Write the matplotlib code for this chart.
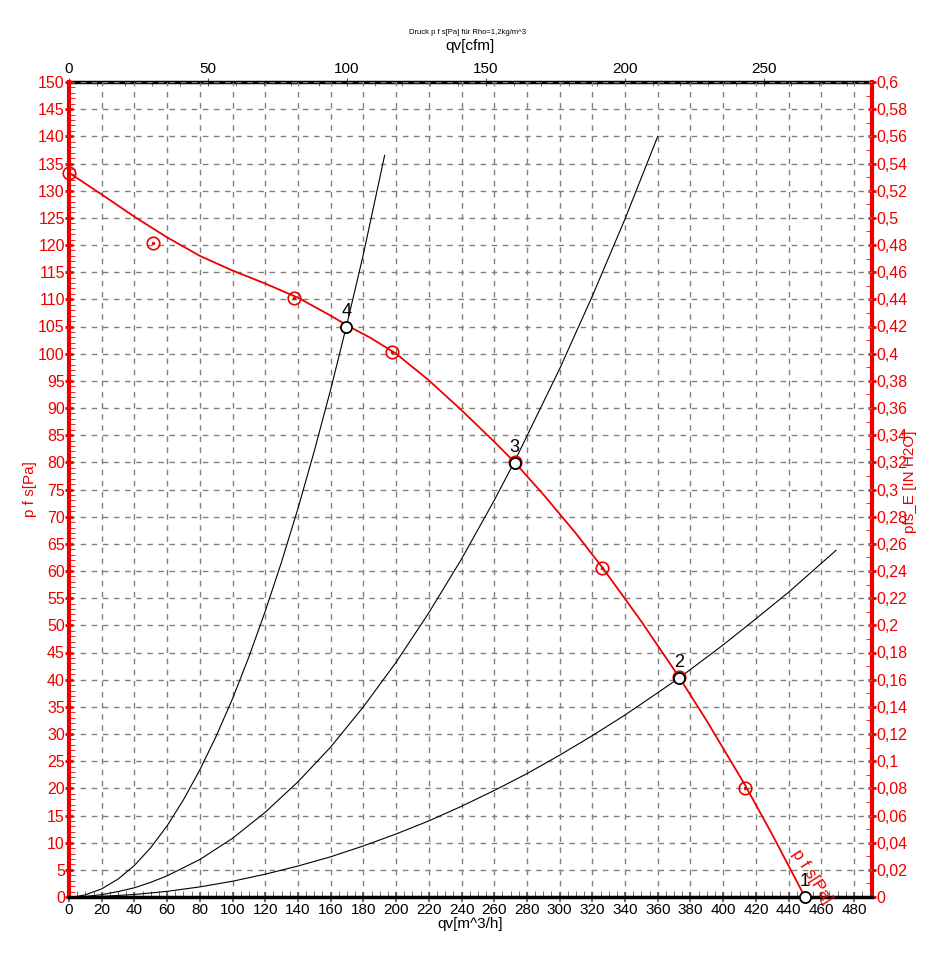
import numpy as np
import matplotlib
matplotlib.use("Agg")
import matplotlib.pyplot as plt
from matplotlib.ticker import MultipleLocator, FuncFormatter

plt.rcParams['font.family'] = ['Liberation Sans', 'DejaVu Sans']

# fan curve p f s [Pa] over qv [m^3/h]
fan_q = [0, 20, 40, 60, 80, 100, 120, 140, 160, 169.5, 185, 200, 220, 240, 260, 272.5,
         290, 310, 326, 350, 373, 390, 413, 430, 450]
fan_p = [133.3, 129.3, 125.2, 121.4, 118.0, 115.3, 112.9, 110.3, 107.0, 105.3, 102.8, 100.0,
         95.1, 89.6, 83.8, 80.0, 74.1, 66.9, 60.7, 50.7, 40.5, 32.4, 20.8, 11.5, 0]
# measured points (red circles)
meas_q = [0, 51.4, 137.8, 197.2, 272.5, 325.8, 372.9, 413.3]
meas_p = [133.3, 120.3, 110.3, 100.3, 80.0, 60.6, 40.5, 20.1]

# system curves (black)
sys4_q = [3, 10, 20, 30, 40, 50, 60, 70, 80, 90, 100, 110, 120, 130, 140, 150, 160, 170, 180, 193]
sys4_p = [0, 0.4, 1.5, 3.3, 5.8, 9.1, 13.1, 17.9, 23.4, 29.6, 36.5, 44.2, 52.6, 61.7, 71.5,
          82.1, 93.4, 105.5, 118.3, 136.5]
sys3_q = [3, 10, 20, 30, 40, 50, 60, 80, 100, 120, 140, 160, 180, 200, 220, 240, 260, 272,
          300, 320, 340, 360]
sys3_p = [0, 0.1, 0.43, 1.0, 1.7, 2.7, 3.9, 6.9, 10.8, 15.6, 21.2, 27.6, 35.0, 43.2, 52.3,
          62.2, 73.0, 79.9, 97.2, 110.6, 124.8, 140.0]
sys2_q = [3, 20, 40, 60, 80, 100, 120, 140, 160, 180, 200, 220, 240, 260, 280, 300, 320, 340,
          360, 373, 400, 420, 440, 469]
sys2_p = [0, 0.12, 0.46, 1.04, 1.86, 2.9, 4.2, 5.7, 7.4, 9.4, 11.6, 14.0, 16.7, 19.6, 22.7,
          26.1, 29.7, 33.5, 37.6, 40.3, 46.4, 51.2, 56.1, 63.8]

# operating points 1..4
op_q = [450, 372.9, 272.5, 169.5]
op_p = [0, 40.3, 79.9, 105.0]
op_labels = ['1', '2', '3', '4']

RED = '#ee0000'
CFM = 1.699      # m^3/h per cfm
INH2O = 0.004    # in H2O per Pa (axis scale)

fig = plt.figure(figsize=(9.45, 9.77), dpi=100)
ax = fig.add_axes([69 / 945, 80 / 977, 803 / 945, 815 / 977])
ax.set_xlim(0, 491)
ax.set_ylim(0, 150)

ax.grid(True, which='major', color='#808080', linestyle=(0, (4, 4)), linewidth=1)

for q, p in [(sys4_q, sys4_p), (sys3_q, sys3_p), (sys2_q, sys2_p)]:
    ax.plot(q, p, color='black', lw=0.8, solid_joinstyle='round')
ax.plot(fan_q, fan_p, color=RED, lw=1.3, zorder=3, solid_joinstyle='round')
ax.plot(meas_q, meas_p, 'o', ms=9, mfc='none', mec=RED, mew=1.2, zorder=4, clip_on=False)
ax.plot(meas_q, meas_p, '.', ms=3, color=RED, zorder=4, clip_on=False)
ax.plot(op_q, op_p, 'o', ms=8, mfc='white', mec='black', mew=1.3, zorder=5, clip_on=False)
for q, p, lab in zip(op_q, op_p, op_labels):
    ax.annotate(lab, (q, p), xytext=(0, 5), textcoords='offset points',
                ha='center', va='bottom', fontsize=13, zorder=6)

ax.text(454, 3.8, 'p f s[Pa]', color=RED, fontsize=12, rotation=-57,
        ha='center', va='center', zorder=6)

# bottom / left axis
ax.xaxis.set_major_locator(MultipleLocator(20))
ax.xaxis.set_minor_locator(MultipleLocator(5))
ax.yaxis.set_major_locator(MultipleLocator(5))
ax.yaxis.set_minor_locator(MultipleLocator(1))
ax.tick_params(axis='x', which='major', direction='inout', length=7, width=1.2,
               color='#555555', labelsize=11, pad=1)
ax.tick_params(axis='x', which='minor', direction='in', length=4, color='#555555')
ax.tick_params(axis='y', which='major', direction='inout', length=6, width=2,
               color=RED, labelcolor=RED, labelsize=11.5, pad=0)
ax.tick_params(axis='y', which='minor', direction='in', length=4, color=RED)
ax.spines['bottom'].set_linewidth(2.5)
ax.spines['left'].set_color(RED)
ax.spines['left'].set_linewidth(3)
ax.spines['top'].set_visible(False)
ax.spines['right'].set_visible(False)
ax.set_xlabel('qv[m^3/h]', fontsize=11, labelpad=0)

# top axis in cfm
top = ax.secondary_xaxis('top', functions=(lambda q: q / CFM, lambda c: c * CFM))
top.xaxis.set_major_locator(MultipleLocator(50))
top.xaxis.set_minor_locator(MultipleLocator(10))
top.tick_params(which='major', direction='inout', length=6, color='#555555', labelsize=11, pad=1)
top.tick_params(which='minor', direction='in', length=3, color='#555555')
top.spines['top'].set_linewidth(2.5)
top.set_xlabel('qv[cfm]', fontsize=11, labelpad=9)

# right axis in in H2O
right = ax.secondary_yaxis('right', functions=(lambda p: p * INH2O, lambda w: w / INH2O))
right.yaxis.set_major_locator(MultipleLocator(0.02))
right.yaxis.set_minor_locator(MultipleLocator(0.01))
right.yaxis.set_major_formatter(FuncFormatter(lambda v, pos: f"{round(v, 2):g}".replace('.', ',')))
right.tick_params(which='major', direction='inout', length=6, width=2,
                  color=RED, labelcolor=RED, labelsize=11.5, pad=0)
right.tick_params(which='minor', direction='in', length=4, color=RED)
right.spines['right'].set_color(RED)
right.spines['right'].set_linewidth(3)

fig.text(30 / 945, 1 - 489 / 977, 'p f s[Pa]', color=RED, fontsize=11, rotation=90,
         ha='center', va='center')
fig.text(910 / 945, 1 - 482 / 977, 'pfs_E [IN H2O]', color=RED, fontsize=11, rotation=90,
         ha='center', va='center')
fig.text(468 / 945, 1 - 33 / 977, 'Druck p f s[Pa] für Rho=1,2kg/m^3', fontsize=5.5,
         ha='center', va='center')

fig.savefig('out.png', dpi=100)
